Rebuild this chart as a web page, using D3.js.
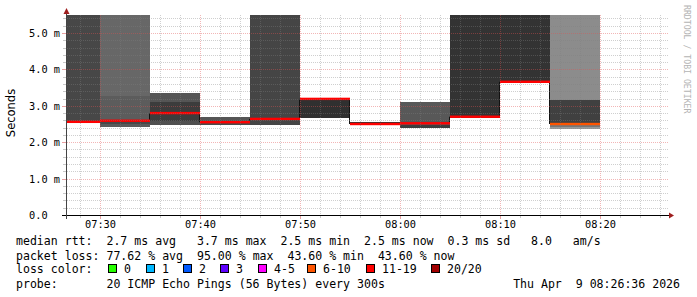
<!DOCTYPE html>
<html><head><meta charset="utf-8">
<script src="https://cdn.jsdelivr.net/npm/d3@7"></script>
<style>
html,body{margin:0;padding:0;background:#fff;}
svg{display:block;}
text{font-family:"DejaVu Sans Mono",monospace;fill:#000;}
</style></head><body>
<svg id="c" width="697" height="297"></svg>
<script>
// ---------------- data ----------------
const graphStart = "07:26:36";
const graphEnd = "08:26:36";
const stepMinutes = 5;
const intervalEnds = ["07:30","07:35","07:40","07:45","07:50","07:55","08:00","08:05","08:10","08:15","08:20"];
const medianMs = [2.56, 2.59, 2.80, 2.55, 2.64, 3.19, 2.50, 2.52, 2.70, 3.66, 2.50];
const lostPings = [16, 15, 14, 17, 19, 15, 16, 15, 17, 16, 9];
// smoke bands per interval: [low ms, high ms, grey level]; 9 = off the top of the scale
const smokeBands = [
  [[2.53, 9, 71]],
  [[2.43, 2.49, 90], [2.49, 2.57, 71], [2.57, 3.27, 92], [3.27, 9, 103]],
  [[2.47, 2.58, 79], [2.58, 3.11, 60], [3.11, 3.36, 85]],
  [[2.47, 2.52, 74], [2.52, 2.69, 85]],
  [[2.47, 9, 69]],
  [[2.67, 3.18, 48]],
  [[2.49, 2.555, 51]],
  [[2.40, 2.48, 61], [2.48, 3.11, 88]],
  [[2.66, 9, 51]],
  [[3.63, 9, 51]],
  [[2.37, 2.41, 153], [2.41, 2.46, 119], [2.46, 3.16, 64], [3.16, 9, 140]]
];
const yMajorTicks = [0, 1, 2, 3, 4, 5];
const yTickLabels = ["0.0", "1.0 m", "2.0 m", "3.0 m", "4.0 m", "5.0 m"];
const xMajorTicks = ["07:30", "07:40", "07:50", "08:00", "08:10", "08:20"];
const lossLabels = ["0", "1", "2", "3", "4-5", "6-10", "11-19", "20/20"];
const lossUpper = [0, 1, 2, 3, 5, 10, 19, 20];
const lossColors = ["#26ff00", "#00b8ff", "#0059ff", "#5e00ff", "#ff00ff", "#ff5500", "#ff0000", "#a10000"];
const statLines = [
  "median rtt:  2.7 ms avg   3.7 ms max  2.5 ms min  2.5 ms now  0.3 ms sd   8.0   am/s",
  "packet loss: 77.62 % avg  95.00 % max  43.60 % min  43.60 % now",
  "loss color:",
  "probe:       20 ICMP Echo Pings (56 Bytes) every 300s"
];
const dateText = "Thu Apr  9 08:26:36 2026";
const yTitle = "Seconds";
const watermark = "RRDTOOL / TOBI OETIKER";

// ---------------- drawing ----------------
const svg = d3.select("#c");
const T = s => { const [h, m, sec] = s.split(":").map(Number); return new Date(2026, 3, 9, h, m, sec || 0); };
const x = d3.scaleTime().domain([T(graphStart), T(graphEnd)]).range([66, 666]).clamp(true);
const y = d3.scaleLinear().domain([0, 5.495]).range([215, 15]).clamp(true);

const plot = svg.append("g");
intervalEnds.forEach((e, i) => {
  const t1 = T(e), t0 = d3.timeMinute.offset(t1, -stepMinutes);
  const x0 = x(t0), x1 = x(t1);
  smokeBands[i].forEach(([lo, hi, g]) => {
    plot.append("rect").attr("x", x0).attr("width", x1 - x0)
      .attr("y", y(hi)).attr("height", y(lo) - y(hi))
      .attr("fill", d3.rgb(g, g, g)).attr("shape-rendering", "crispEdges");
  });
});
// median connectors
intervalEnds.forEach((e, i) => {
  if (i === intervalEnds.length - 1) return;
  const xb = x(T(e)) - 0.5;
  plot.append("line").attr("x1", xb).attr("x2", xb)
    .attr("y1", y(medianMs[i])).attr("y2", y(medianMs[i + 1]))
    .attr("stroke", "#111").attr("stroke-width", 1);
});
// median lines coloured by loss
intervalEnds.forEach((e, i) => {
  const t1 = T(e), t0 = d3.timeMinute.offset(t1, -stepMinutes);
  const x0 = x(t0), x1 = x(t1);
  const li = lossUpper.findIndex(u => lostPings[i] <= u);
  plot.append("rect").attr("x", x0).attr("width", x1 - x0)
    .attr("y", y(medianMs[i]) - 1.2).attr("height", 2.4)
    .attr("fill", lossColors[li]);
});

// grid
const grid = svg.append("g");
const minorC = "rgba(128,128,128,0.38)", majorC = "rgba(225,80,80,0.42)";
const yMinor = d3.range(0, 5.5, 0.2).filter(v => Math.abs(v - Math.round(v)) > 0.01);
yMinor.forEach(v => {
  const yy = Math.round(y(v)) + 0.5;
  grid.append("line").attr("x1", 67).attr("x2", 668).attr("y1", yy).attr("y2", yy)
    .attr("stroke", minorC).attr("stroke-dasharray", "1,1");
  grid.append("line").attr("x1", 63).attr("x2", 66).attr("y1", yy).attr("y2", yy).attr("stroke", "#c8c8c8");
});
const xMinor = d3.timeMinute.every(2).range(T(graphStart), T(graphEnd)).filter(t => t.getMinutes() % 10 !== 0);
xMinor.forEach(t => {
  const xx = Math.round(x(t)) + 0.5;
  grid.append("line").attr("x1", xx).attr("x2", xx).attr("y1", 15).attr("y2", 215)
    .attr("stroke", minorC).attr("stroke-dasharray", "1,1");
  grid.append("line").attr("x1", xx).attr("x2", xx).attr("y1", 216).attr("y2", 218).attr("stroke", "#c8c8c8");
});
yMajorTicks.forEach(v => {
  if (v === 0) return;
  const yy = Math.round(y(v)) + 0.5;
  grid.append("line").attr("x1", 67).attr("x2", 668).attr("y1", yy).attr("y2", yy)
    .attr("stroke", majorC).attr("stroke-dasharray", "1,1");
  grid.append("line").attr("x1", 62).attr("x2", 66).attr("y1", yy).attr("y2", yy).attr("stroke", "#e8a0a0");
});
xMajorTicks.forEach(s => {
  const xx = Math.round(x(T(s))) + 0.5;
  grid.append("line").attr("x1", xx).attr("x2", xx).attr("y1", 15).attr("y2", 215)
    .attr("stroke", majorC).attr("stroke-dasharray", "1,1");
  grid.append("line").attr("x1", xx).attr("x2", xx).attr("y1", 216).attr("y2", 219).attr("stroke", "#e8a0a0");
});

// axes
const ax = svg.append("g");
ax.append("line").attr("x1", 62).attr("x2", 669).attr("y1", 215.5).attr("y2", 215.5).attr("stroke", "#000");
ax.append("line").attr("x1", 66.5).attr("x2", 66.5).attr("y1", 219).attr("y2", 12).attr("stroke", "#444");
ax.append("path").attr("d", "M63.5,14 L69.5,14 L66.5,8 Z").attr("fill", "#9e1e1e");
ax.append("path").attr("d", "M669,212.5 L669,218.5 L674,215.5 Z").attr("fill", "#9e1e1e");

// tick labels
yMajorTicks.forEach((v, i) => {
  svg.append("text").attr("x", 29).attr("y", Math.round(y(v)) + 4.2)
    .attr("font-size", "10.3px").style("white-space", "pre").text(yTickLabels[i]);
});
xMajorTicks.forEach(s => {
  svg.append("text").attr("x", x(T(s)) + 0.5).attr("y", 228)
    .attr("text-anchor", "middle").attr("font-size", "10.3px").text(s);
});

// titles
svg.append("text").attr("transform", "translate(15,113) rotate(-90)")
  .attr("text-anchor", "middle").style("font-family", "'DejaVu Sans',sans-serif")
  .attr("font-size", "11.5px").text(yTitle);
svg.append("text").attr("transform", "translate(684,5) rotate(90)")
  .attr("font-size", "8.2px").style("fill", "#b4b4b4").text(watermark);

// legend text (monospace columns)
const cw = 6.96, lx = 16;
const baselines = [245, 259.7, 273, 287.7];
function mono(str, x0, yb) {
  const re = /\S+/g; let m;
  while ((m = re.exec(str)) !== null) {
    svg.append("text").attr("x", x0 + m.index * cw).attr("y", yb)
      .attr("font-size", "11.56px").text(m[0]);
  }
}
statLines.forEach((s, i) => mono(s, lx, baselines[i]));
svg.append("text").attr("x", 680).attr("y", baselines[3]).attr("text-anchor", "end")
  .attr("font-size", "11.56px").style("white-space", "pre").text(dateText);

// loss colour boxes
const boxX = [108, 146, 183, 220, 258, 307, 366, 431];
lossLabels.forEach((lab, i) => {
  svg.append("rect").attr("x", boxX[i] + 0.5).attr("y", 264.5).attr("width", 8).attr("height", 8)
    .attr("fill", lossColors[i]).attr("stroke", "#000").attr("stroke-width", 1);
  svg.append("text").attr("x", boxX[i] + 16).attr("y", baselines[2])
    .attr("font-size", "11.56px").text(lab);
});
</script>
</body></html>
